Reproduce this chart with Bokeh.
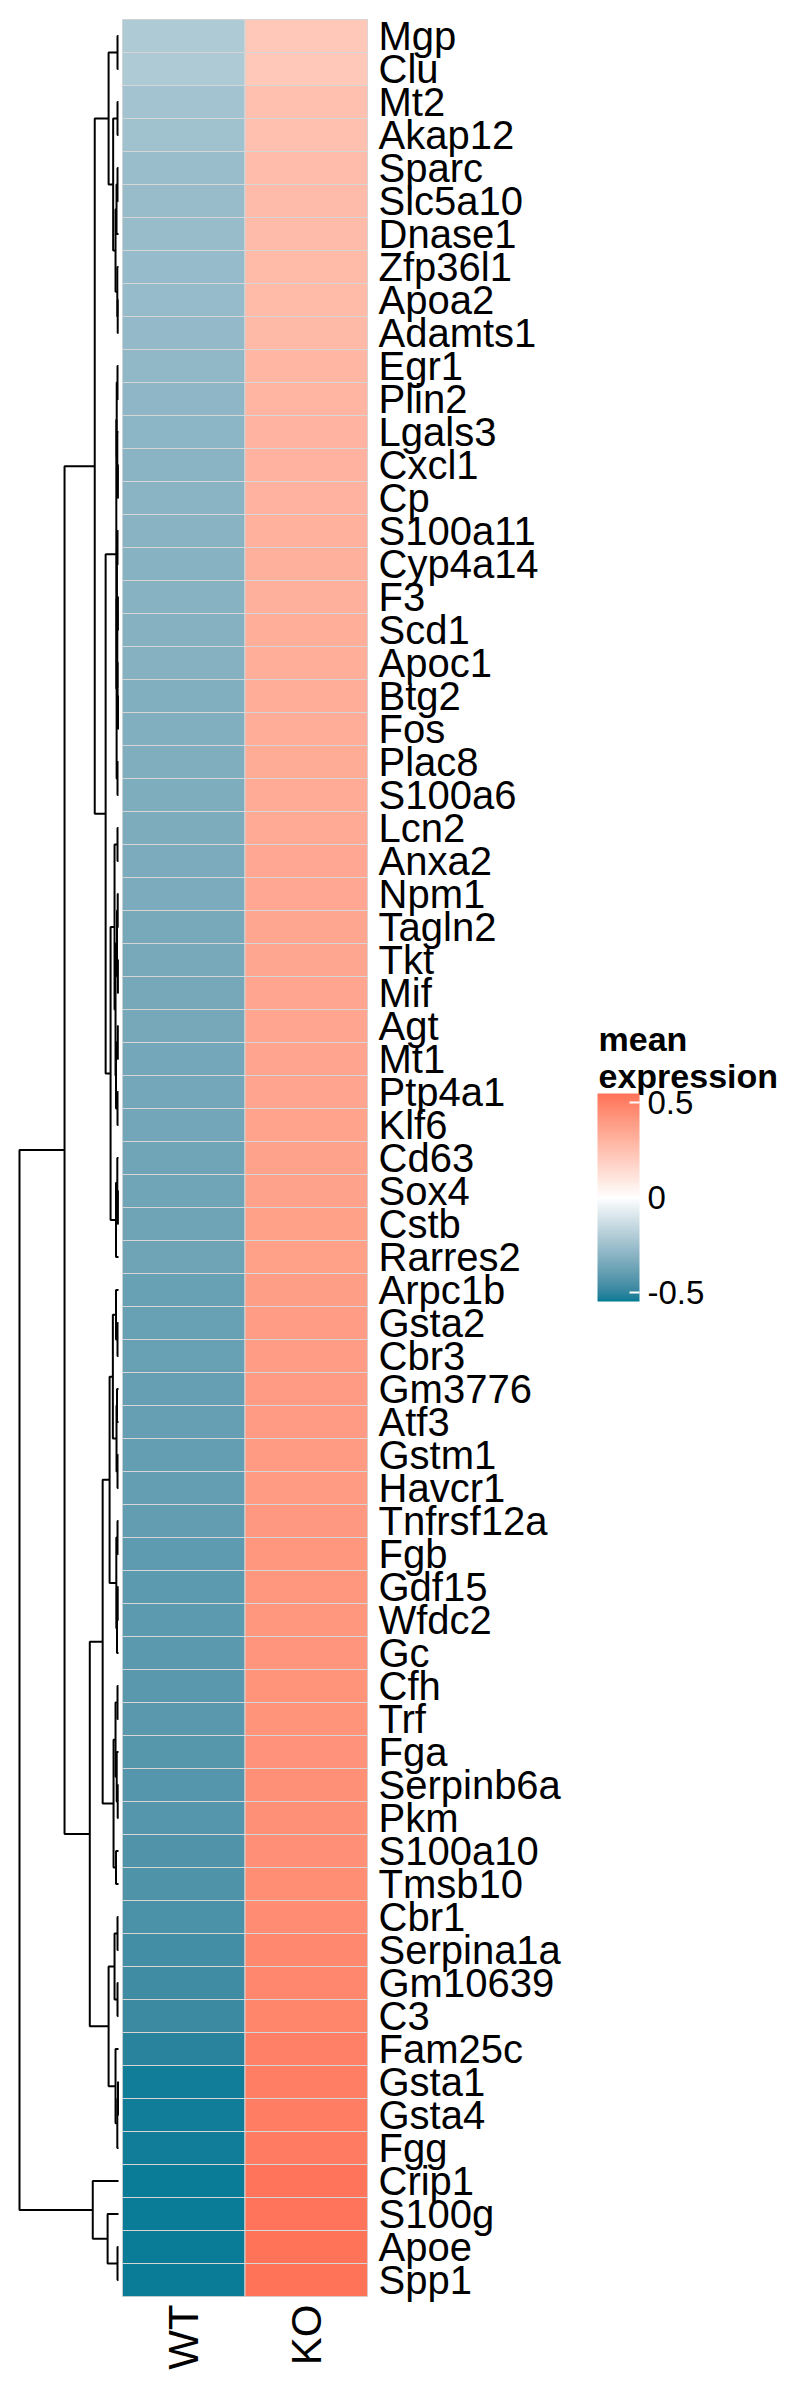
import math

from bokeh.embed import file_html
from bokeh.layouts import row
from bokeh.models import (ColorBar, ColumnDataSource, CustomJSTickFormatter,
                          FixedTicker, Label, LinearColorMapper, Range1d)
from bokeh.plotting import figure
from bokeh.resources import INLINE

# genes, top to bottom, in dendrogram leaf order
GENES = ["Mgp", "Clu", "Mt2", "Akap12", "Sparc", "Slc5a10", "Dnase1", "Zfp36l1",
         "Apoa2", "Adamts1", "Egr1", "Plin2", "Lgals3", "Cxcl1", "Cp", "S100a11",
         "Cyp4a14", "F3", "Scd1", "Apoc1", "Btg2", "Fos", "Plac8", "S100a6",
         "Lcn2", "Anxa2", "Npm1", "Tagln2", "Tkt", "Mif", "Agt", "Mt1", "Ptp4a1",
         "Klf6", "Cd63", "Sox4", "Cstb", "Rarres2", "Arpc1b", "Gsta2", "Cbr3",
         "Gm3776", "Atf3", "Gstm1", "Havcr1", "Tnfrsf12a", "Fgb", "Gdf15",
         "Wfdc2", "Gc", "Cfh", "Trf", "Fga", "Serpinb6a", "Pkm", "S100a10",
         "Tmsb10", "Cbr1", "Serpina1a", "Gm10639", "C3", "Fam25c", "Gsta1",
         "Gsta4", "Fgg", "Crip1", "S100g", "Apoe", "Spp1"]

GROUPS = ["WT", "KO"]

# mean expression (scaled)
WT = [-0.21, -0.21, -0.24, -0.245, -0.26, -0.265, -0.265, -0.27, -0.27, -0.275,
      -0.285, -0.29, -0.295, -0.30, -0.30, -0.305, -0.31, -0.31, -0.315, -0.315,
      -0.32, -0.32, -0.325, -0.33, -0.335, -0.34, -0.34, -0.345, -0.345, -0.35,
      -0.35, -0.355, -0.355, -0.36, -0.365, -0.365, -0.37, -0.37, -0.38, -0.385,
      -0.385, -0.39, -0.39, -0.395, -0.395, -0.40, -0.405, -0.41, -0.41, -0.415,
      -0.42, -0.42, -0.425, -0.43, -0.43, -0.435, -0.44, -0.45, -0.46, -0.47,
      -0.48, -0.51, -0.535, -0.535, -0.535, -0.54, -0.54, -0.54, -0.54]
KO = [0.22, 0.22, 0.25, 0.25, 0.265, 0.27, 0.27, 0.275, 0.275, 0.28,
      0.29, 0.295, 0.30, 0.305, 0.305, 0.31, 0.315, 0.315, 0.32, 0.32,
      0.325, 0.325, 0.33, 0.335, 0.34, 0.345, 0.345, 0.35, 0.35, 0.355,
      0.355, 0.36, 0.36, 0.365, 0.37, 0.37, 0.375, 0.375, 0.385, 0.39,
      0.39, 0.395, 0.395, 0.40, 0.40, 0.405, 0.41, 0.415, 0.415, 0.42,
      0.425, 0.425, 0.43, 0.435, 0.435, 0.44, 0.445, 0.455, 0.465, 0.47,
      0.48, 0.495, 0.505, 0.51, 0.515, 0.54, 0.54, 0.545, 0.545]

LEGEND_TICKS = [-0.5, 0, 0.5]

# row dendrogram: (left, right, merge height)
TOP = (("Mgp", "Clu", 0.01),
       (("Mt2", "Akap12", 0.01),
        ((("Sparc", "Slc5a10", 0.01), "Dnase1", 0.02),
         ("Zfp36l1", ("Apoa2", "Adamts1", 0.008), 0.012), 0.03), 0.054), 0.10)
MID1 = ((("Egr1", "Plin2", 0.01), ("Lgals3", ("Cxcl1", "Cp", 0.006), 0.012), 0.018),
        (((("S100a11", "Cyp4a14", 0.01),
           (("F3", "Scd1", 0.006), ("Apoc1", ("Btg2", "Fos", 0.005), 0.009), 0.012),
           0.016), ("Plac8", "S100a6", 0.01), 0.019)), 0.022)
MID2 = ((("Lcn2", "Anxa2", 0.01),
         ((("Npm1", "Tagln2", 0.008), ("Tkt", "Mif", 0.006), 0.015),
          (("Agt", "Mt1", 0.007), ("Ptp4a1", "Klf6", 0.01), 0.025), 0.03), 0.04),
        (("Cd63", ("Sox4", "Cstb", 0.006), 0.012), "Rarres2", 0.025), 0.08)
LOW1 = (((("Arpc1b", ("Gsta2", "Cbr3", 0.01), 0.025),
          (("Gm3776", "Atf3", 0.015), ("Gstm1", "Havcr1", 0.01), 0.02), 0.057),
         (("Tnfrsf12a", "Fgb", 0.01), (("Gdf15", "Wfdc2", 0.008), "Gc", 0.015), 0.022),
         0.09),
        ((("Cfh", "Trf", 0.01), ("Fga", ("Serpinb6a", "Pkm", 0.008), 0.018), 0.03),
         ("S100a10", "Tmsb10", 0.025), 0.05), 0.16)
LOW2 = ((("Cbr1", "Serpina1a", 0.01), ("Gm10639", "C3", 0.01), 0.04),
        ("Fam25c", (("Gsta1", "Gsta4", 0.005), "Fgg", 0.012), 0.03), 0.10)
BOTTOM = ("Crip1", ("S100g", ("Apoe", "Spp1", 0.01), 0.11), 0.26)
DENDROGRAM = (((TOP, (MID1, MID2, 0.13), 0.24), (LOW1, LOW2, 0.29), 0.545),
              BOTTOM, 1.0)

LOW_COLOR, MID_COLOR, HIGH_COLOR = "#027B96", "#FFFFFF", "#FF7359"
FONT = "Liberation Sans"


# --- colour ramp in CIELAB, like a diverging ggplot gradient ---
def _lin(c):
    c = c / 255
    return c / 12.92 if c <= 0.04045 else ((c + 0.055) / 1.055) ** 2.4


def _f(t):
    return t ** (1 / 3) if t > 0.008856 else 7.787 * t + 16 / 116


def _finv(f):
    return f ** 3 if f ** 3 > 0.008856 else (f - 16 / 116) / 7.787


def hex_to_lab(h):
    r, g, b = (_lin(int(h[i:i + 2], 16)) for i in (1, 3, 5))
    x = (0.4124 * r + 0.3576 * g + 0.1805 * b) / 0.95047
    y = 0.2126 * r + 0.7152 * g + 0.0722 * b
    z = (0.0193 * r + 0.1192 * g + 0.9505 * b) / 1.08883
    fx, fy, fz = _f(x), _f(y), _f(z)
    return 116 * fy - 16, 500 * (fx - fy), 200 * (fy - fz)


def lab_to_hex(L, a, b):
    fy = (L + 16) / 116
    x, y, z = _finv(fy + a / 500) * 0.95047, _finv(fy), _finv(fy - b / 200) * 1.08883
    rgb = [3.2406 * x - 1.5372 * y - 0.4986 * z,
           -0.9689 * x + 1.8758 * y + 0.0415 * z,
           0.0557 * x - 0.2040 * y + 1.0570 * z]
    out = []
    for c in rgb:
        c = 12.92 * c if c <= 0.0031308 else 1.055 * c ** (1 / 2.4) - 0.055
        out.append(round(min(max(c, 0), 1) * 255))
    return "#%02x%02x%02x" % tuple(out)


def diverging_palette(n=256):
    lo, mid, hi = hex_to_lab(LOW_COLOR), hex_to_lab(MID_COLOR), hex_to_lab(HIGH_COLOR)
    pal = []
    for k in range(n):
        t = 2 * k / (n - 1) - 1
        end = lo if t < 0 else hi
        w = abs(t)
        pal.append(lab_to_hex(*[m + (e - m) * w for m, e in zip(mid, end)]))
    return pal


# --- dendrogram geometry from the merge tree ---
seg_x, seg_y, leaves = [], [], []


def walk(node):
    if isinstance(node, str):
        leaves.append(node)
        return GENES.index(node), 0.0
    left, right, h = node
    yl, hl = walk(left)
    yr, hr = walk(right)
    seg_x.append([hl, h, h, hr])
    seg_y.append([yl, yl, yr, yr])
    return (yl + yr) / 2, h


walk(DENDROGRAM)
assert leaves == GENES

n = len(GENES)
root_h = DENDROGRAM[2]
lim = max(abs(v) for v in WT + KO)
mapper = LinearColorMapper(palette=diverging_palette(), low=-lim, high=lim)

# the page template has no body margin, so the 8px offset is built in here
H = 2392
TOP_PAD, ROW_PX = 19, 33
FRAME_H = n * ROW_PX
BOTTOM_PAD = H - TOP_PAD - FRAME_H
rows_range = Range1d(n - 0.5, -0.5)

# dendrogram panel
d = figure(width=122, height=H, output_backend="svg", toolbar_location=None,
           x_range=Range1d(root_h * 110 / 99, -root_h * 2 / 99), y_range=rows_range,
           x_axis_location=None, y_axis_location=None,
           min_border_left=8, min_border_right=2,
           min_border_top=TOP_PAD, min_border_bottom=BOTTOM_PAD)
d.multi_line(xs=seg_x, ys=seg_y, line_color="black", line_width=2)
d.grid.visible = False
d.outline_line_color = None

# heatmap panel
cells = ColumnDataSource(data=dict(
    x=[0] * n + [1] * n,
    y=list(range(n)) * 2,
    value=WT + KO,
))
p = figure(width=458, height=H, output_backend="svg", toolbar_location=None,
           x_range=Range1d(-0.5, 1.5), y_range=rows_range, y_axis_location="right",
           min_border_left=0, min_border_right=213,
           min_border_top=TOP_PAD, min_border_bottom=BOTTOM_PAD)
p.rect(x="x", y="y", width=1, height=1, source=cells,
       fill_color={"field": "value", "transform": mapper},
       line_color="#D6D6D6", line_width=1)
p.grid.visible = False
p.outline_line_color = "#D6D6D6"

p.yaxis.ticker = FixedTicker(ticks=list(range(n)))
p.yaxis.major_label_overrides = {i: g for i, g in enumerate(GENES)}
p.yaxis.major_label_text_font_size = "40px"
p.yaxis.major_label_standoff = 11

p.xaxis.ticker = FixedTicker(ticks=list(range(len(GROUPS))))
p.xaxis.major_label_overrides = {i: g for i, g in enumerate(GROUPS)}
p.xaxis.major_label_text_font_size = "42px"
p.xaxis.major_label_orientation = math.pi / 2
p.xaxis.major_label_standoff = 8

for ax in p.axis:
    ax.axis_line_color = None
    ax.major_tick_line_color = None
    ax.minor_tick_line_color = None
    ax.major_tick_in = 0
    ax.major_tick_out = 0
    ax.major_label_text_font = FONT
    ax.major_label_text_color = "black"

# legend panel: same frame as the heatmap, y measured in pixels up from its bottom
LEG_W = 201
leg = figure(width=218, height=H, output_backend="svg", toolbar_location=None,
             x_range=Range1d(0, LEG_W), y_range=Range1d(0, FRAME_H),
             x_axis_location=None, y_axis_location=None,
             min_border_left=17, min_border_right=0,
             min_border_top=TOP_PAD, min_border_bottom=BOTTOM_PAD)
leg.grid.visible = False
leg.outline_line_color = None
for txt, yy in (("mean", 1258), ("expression", 1221)):
    leg.add_layout(Label(x=1, y=yy, text=txt, text_font=FONT, text_font_size="34px",
                         text_font_style="bold", text_baseline="alphabetic",
                         text_color="black"))
cbar = ColorBar(color_mapper=mapper, location=(0, 995), margin=0, padding=0,
                width=42, height=208,
                ticker=FixedTicker(ticks=LEGEND_TICKS),
                formatter=CustomJSTickFormatter(code="return tick.toString()"),
                major_label_text_font=FONT, major_label_text_font_size="33px",
                major_label_text_color="black",
                label_standoff=8, major_tick_line_color="white",
                major_tick_line_width=2, major_tick_in=10, major_tick_out=0,
                minor_tick_line_color=None, bar_line_color=None,
                border_line_color=None, background_fill_color=None)
leg.add_layout(cbar, "center")

layout = row(d, p, leg)
open("out.html", "w").write(file_html(layout, INLINE))
